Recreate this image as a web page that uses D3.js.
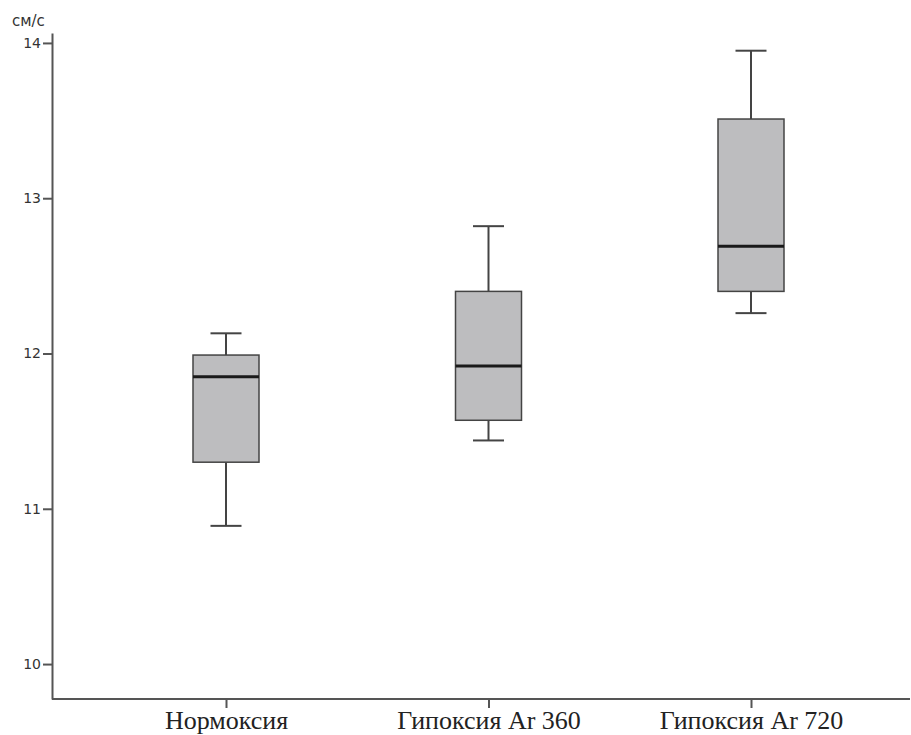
<!DOCTYPE html>
<html>
<head>
<meta charset="utf-8">
<script src="https://cdn.jsdelivr.net/npm/d3@7"></script>
<style>
  body { margin: 0; background: #fff; }
</style>
</head>
<body>
<div id="chart"></div>
<script>
var categories = ["Нормоксия", "Гипоксия Ar 360", "Гипоксия Ar 720"];
var whiskerLow = [10.89, 11.44, 12.26];
var q1 = [11.30, 11.57, 12.40];
var median = [11.85, 11.92, 12.69];
var q3 = [11.99, 12.40, 13.51];
var whiskerHigh = [12.13, 12.82, 13.95];
var yTicks = [10, 11, 12, 13, 14];
var unitLabel = "см/с";

var w = 911, h = 735;
var svg = d3.select("#chart").append("svg")
    .attr("width", w).attr("height", h);

var x0 = 52, x1 = 910;
var yScale = d3.scaleLinear().domain([9.775, 14.064]).range([699, 33]);
var xScale = d3.scalePoint().domain(categories).range([226, 751]);

var boxes = categories.map(function(c, i) {
    return {cat: c, lo: whiskerLow[i], q1: q1[i], med: median[i], q3: q3[i], hi: whiskerHigh[i]};
});

var boxW = 66, capW = 31;
var stroke = "#444";

var g = svg.selectAll("g.box").data(boxes).enter().append("g").attr("class", "box");

// whiskers
g.append("line")
    .attr("x1", function(d){ return xScale(d.cat); })
    .attr("x2", function(d){ return xScale(d.cat); })
    .attr("y1", function(d){ return yScale(d.hi); })
    .attr("y2", function(d){ return yScale(d.q3); })
    .attr("stroke", stroke).attr("stroke-width", 2);
g.append("line")
    .attr("x1", function(d){ return xScale(d.cat); })
    .attr("x2", function(d){ return xScale(d.cat); })
    .attr("y1", function(d){ return yScale(d.q1); })
    .attr("y2", function(d){ return yScale(d.lo); })
    .attr("stroke", stroke).attr("stroke-width", 2);
g.append("line")
    .attr("x1", function(d){ return xScale(d.cat) - capW/2; })
    .attr("x2", function(d){ return xScale(d.cat) + capW/2; })
    .attr("y1", function(d){ return yScale(d.hi); })
    .attr("y2", function(d){ return yScale(d.hi); })
    .attr("stroke", stroke).attr("stroke-width", 2);
g.append("line")
    .attr("x1", function(d){ return xScale(d.cat) - capW/2; })
    .attr("x2", function(d){ return xScale(d.cat) + capW/2; })
    .attr("y1", function(d){ return yScale(d.lo); })
    .attr("y2", function(d){ return yScale(d.lo); })
    .attr("stroke", stroke).attr("stroke-width", 2);

// box
g.append("rect")
    .attr("x", function(d){ return xScale(d.cat) - boxW/2; })
    .attr("y", function(d){ return yScale(d.q3); })
    .attr("width", boxW)
    .attr("height", function(d){ return yScale(d.q1) - yScale(d.q3); })
    .attr("fill", "#bdbdbf")
    .attr("stroke", stroke).attr("stroke-width", 1.5);

// median
g.append("line")
    .attr("x1", function(d){ return xScale(d.cat) - boxW/2; })
    .attr("x2", function(d){ return xScale(d.cat) + boxW/2; })
    .attr("y1", function(d){ return yScale(d.med); })
    .attr("y2", function(d){ return yScale(d.med); })
    .attr("stroke", "#1a1a1a").attr("stroke-width", 3);

// y axis
var yAxis = svg.append("g")
    .attr("transform", "translate(" + x0 + ",0)")
    .call(d3.axisLeft(yScale).tickValues(yTicks).tickSize(9).tickSizeOuter(0).tickFormat(d3.format("d")));
yAxis.select(".domain").attr("stroke", "#555").attr("stroke-width", 2);
yAxis.selectAll(".tick line").attr("stroke", "#555").attr("stroke-width", 2);
yAxis.selectAll(".tick text")
    .attr("x", -11)
    .attr("fill", "#333")
    .style("font-family", "DejaVu Sans, sans-serif")
    .style("font-size", "14px");

// x axis
var xAxis = svg.append("g")
    .attr("transform", "translate(0,699)")
    .call(d3.axisBottom(xScale).tickSize(9).tickSizeOuter(0));
xAxis.select(".domain").attr("d", "M" + x0 + ",0H" + x1).attr("stroke", "#555").attr("stroke-width", 2);
xAxis.selectAll(".tick line").attr("stroke", "#555").attr("stroke-width", 2);
xAxis.selectAll(".tick text")
    .attr("y", 30)
    .attr("dy", 0)
    .attr("fill", "#222")
    .style("font-family", "Liberation Serif, Times New Roman, serif")
    .style("font-size", "26px");

svg.append("text")
    .attr("x", 12).attr("y", 26)
    .attr("fill", "#333")
    .style("font-family", "DejaVu Sans, sans-serif")
    .style("font-size", "15px")
    .text(unitLabel);
</script>
</body>
</html>
